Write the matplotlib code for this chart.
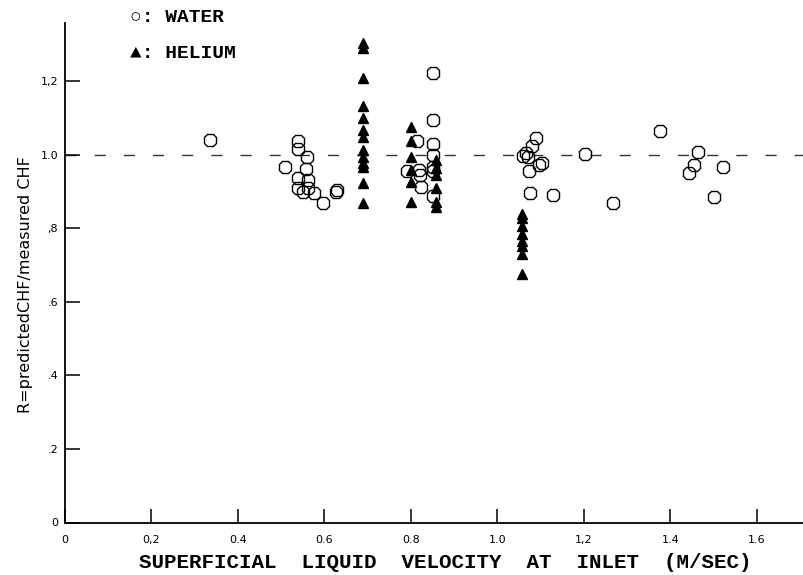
import matplotlib
matplotlib.use("Agg")
import matplotlib.pyplot as plt

# Water data (superficial velocity m/s, R)
water_x = [0.335, 0.509, 0.539, 0.539, 0.559, 0.557, 0.539, 0.562, 0.539, 0.551,
           0.563, 0.576, 0.596, 0.628, 0.627,
           0.792, 0.815, 0.819, 0.820, 0.823,
           0.852, 0.852, 0.852, 0.852, 0.852, 0.852, 0.852,
           1.089, 1.079, 1.067, 1.060, 1.071, 1.102, 1.097, 1.074, 1.075, 1.129,
           1.202, 1.268, 1.376, 1.464, 1.455, 1.443, 1.521, 1.502]
water_y = [1.040, 0.968, 1.038, 1.015, 0.994, 0.961, 0.937, 0.932, 0.909, 0.900,
           0.909, 0.896, 0.870, 0.905, 0.898,
           0.955, 1.038, 0.959, 0.945, 0.914,
           1.222, 1.095, 1.030, 1.000, 0.968, 0.955, 0.887,
           1.047, 1.023, 1.006, 0.997, 0.994, 0.977, 0.973, 0.956, 0.897, 0.891,
           1.002, 0.870, 1.065, 1.007, 0.973, 0.950, 0.968, 0.885]

# Helium data
helium_x = [0.688] * 13 + [0.800] * 6 + [0.857] * 6 + [1.058] * 8
helium_y = [1.305, 1.290, 1.210, 1.133, 1.100, 1.068, 1.048, 1.014, 0.994, 0.977, 0.968, 0.925, 0.869,
            1.077, 1.037, 0.995, 0.960, 0.926, 0.871,
            0.986, 0.964, 0.946, 0.909, 0.873, 0.859,
            0.838, 0.828, 0.806, 0.785, 0.766, 0.751, 0.731, 0.675]

xticks = [0, 0.2, 0.4, 0.6, 0.8, 1.0, 1.2, 1.4, 1.6]
xticklabels = ["0", "0,2", "0.4", "0.6", "0.8", "1.0", "1,2", "1.4", "1.6"]
yticks = [0, 0.2, 0.4, 0.6, 0.8, 1.0, 1.2]
yticklabels = ["0", ".2", ".4", ".6", ",8", "1.0", "1,2"]

fig = plt.figure(figsize=(8.04, 5.75), dpi=100)
ax = fig.add_axes([65 / 804, 52.5 / 575, 1 - 65 / 804, 499.5 / 575])
ax.set_xlim(0, 1.709)
ax.set_ylim(0, 1.359)

ax.axhline(1.0, color="#333333", lw=1.0, dashes=(8, 13), zorder=1)

ax.plot(water_x, water_y, linestyle="none", marker="8", markersize=10,
        markerfacecolor="none", markeredgecolor="black", markeredgewidth=1.0, zorder=2)
ax.plot(helium_x, helium_y, linestyle="none", marker="^", markersize=6.5,
        markerfacecolor="black", markeredgecolor="black", zorder=3)

for s in ["top", "right"]:
    ax.spines[s].set_visible(False)
for s in ["left", "bottom"]:
    ax.spines[s].set_linewidth(1.3)
    ax.spines[s].set_color("black")

ax.set_xticks(xticks)
ax.set_xticklabels(xticklabels, fontsize=8, family="DejaVu Sans")
ax.set_yticks(yticks)
ax.set_yticklabels(yticklabels, fontsize=8, family="DejaVu Sans")
ax.tick_params(axis="x", direction="in", length=10, width=1.1, pad=9)
ax.tick_params(axis="y", direction="in", length=11, width=1.1, pad=5)

fig.text(26 / 804, 1 - 285 / 575, "R=predictedCHF/measured CHF", rotation=90,
         ha="center", va="center", fontsize=11.5, family="DejaVu Sans")
fig.text(445 / 804, 1 - 563 / 575, "SUPERFICIAL  LIQUID  VELOCITY  AT  INLET  (M/SEC)",
         ha="center", va="center", fontsize=15, fontweight="bold",
         family=["Liberation Mono", "DejaVu Sans Mono"])

fig.text(130 / 804, 1 - 18 / 575, "○: WATER", ha="left", va="center", fontsize=14,
         fontweight="bold", family=["Liberation Mono", "DejaVu Sans Mono", "DejaVu Sans"])
fig.text(130 / 804, 1 - 53 / 575, "▲: HELIUM", ha="left", va="center", fontsize=14,
         fontweight="bold", family=["Liberation Mono", "DejaVu Sans Mono", "DejaVu Sans"])

fig.savefig("out.png", dpi=100)
